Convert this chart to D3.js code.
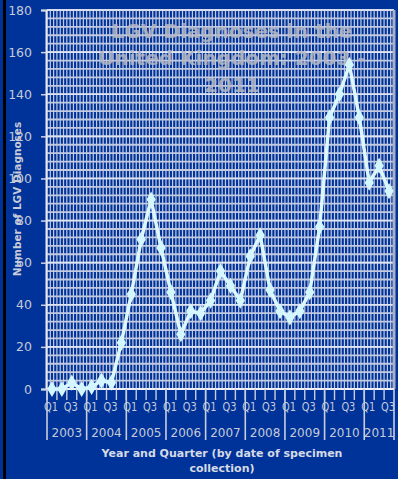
<!DOCTYPE html>
<html>
<head>
<meta charset="utf-8">
<script src="https://cdn.jsdelivr.net/npm/d3@7/dist/d3.min.js"></script>
<style>
  html, body { margin: 0; padding: 0; background: #003399; }
  svg { display: block; }
</style>
</head>
<body>
<script>
// ---- data ----
const years = ["2003","2004","2005","2006","2007","2008","2009","2010","2011"];
const quarters = ["Q1","Q2","Q3","Q4"];
const quartersPerYear = [4,4,4,4,4,4,4,4,3];
const values = [
  0, 0, 3, 0,        // 2003
  1, 4, 3, 22,       // 2004
  45, 71, 90, 67,    // 2005
  46, 26, 37, 36,    // 2006
  42, 56, 49, 42,    // 2007
  63, 73, 47, 37,    // 2008
  34, 37, 46, 77,    // 2009
  129, 140, 154, 129,// 2010
  98, 106, 94        // 2011
];
const yTicks = [0,20,40,60,80,100,120,140,160,180];
const titleLines = ["LGV Diagnoses in the", "United Kingdom: 2003 -", "2011"];
const yTitle = "Number of LGV Diagnoses";
const xTitleLines = ["Year and Quarter (by date of specimen", "collection)"];

(function () {
const categories = [];
years.forEach((yr, i) => {
  for (let q = 0; q < quartersPerYear[i]; q++) categories.push({year: yr, q: quarters[q], key: yr + "-" + quarters[q]});
});
const data = categories.map((c, i) => ({...c, value: values[i]}));

const W = 398, H = 479;
const pL = 47, pR = 394, pT = 10, pB = 389;
const BG = "#003399";
const GRID = "#c3cbe2";
const TXT = "#c6cad8";

const svg = d3.select("body").append("svg").attr("width", W).attr("height", H);
svg.append("rect").attr("width", W).attr("height", H).attr("fill", BG);
svg.append("rect").attr("x", 3).attr("y", 0).attr("width", 3).attr("height", H).attr("fill", "#000");

const x = d3.scaleBand().domain(categories.map(c => c.key)).range([pL, pR]).padding(0);
const y = d3.scaleLinear().domain([0, 180]).range([pB, pT]);

const g = svg.append("g");

// minor horizontal grid (every 4)
const minorY = d3.range(0, 181, 4);
g.selectAll(".hmin").data(minorY).join("line")
  .attr("x1", pL).attr("x2", pR)
  .attr("y1", d => y(d)).attr("y2", d => y(d))
  .attr("stroke", GRID).attr("stroke-width", 1.8);

// vertical grid (thirds of a quarter)
const bw = x.bandwidth();
const vLines = [];
categories.forEach(c => { for (let k = 0; k < 3; k++) vLines.push(x(c.key) + k * bw / 3); });
vLines.push(pR);
g.selectAll(".vmin").data(vLines).join("line")
  .attr("x1", d => d).attr("x2", d => d)
  .attr("y1", pT).attr("y2", pB)
  .attr("stroke", GRID).attr("stroke-width", 1.2);

// major horizontal grid
g.selectAll(".hmaj").data(yTicks).join("line")
  .attr("x1", pL).attr("x2", pR)
  .attr("y1", d => y(d)).attr("y2", d => y(d))
  .attr("stroke", "#dfe4f2").attr("stroke-width", 1.6);

// plot right border
g.append("line").attr("x1", pR).attr("x2", pR).attr("y1", pT).attr("y2", pB)
  .attr("stroke", "#a8b0c8").attr("stroke-width", 3);

// title (semi-transparent over grid)
const title = svg.append("text")
  .attr("font-family", "DejaVu Sans, Verdana, sans-serif")
  .attr("font-weight", "bold").attr("font-size", 20)
  .attr("fill", "#b4b8c4").attr("fill-opacity", 0.85)
  .attr("text-anchor", "middle");
titleLines.forEach((t, i) => {
  title.append("tspan").attr("x", 232).attr("y", 38 + i * 27).text(t);
});

// y axis
const yAxis = d3.axisLeft(y).tickValues(yTicks).tickSize(5).tickPadding(9).tickFormat(d3.format("d"));
const ya = svg.append("g").attr("transform", `translate(${pL - 1},0)`).call(yAxis);
ya.select(".domain").attr("stroke", "#e6e9f2").attr("stroke-width", 2);
ya.selectAll(".tick line").attr("stroke", "#d0d4e0").attr("stroke-width", 1.5);
ya.selectAll(".tick text")
  .attr("font-family", "DejaVu Sans, Verdana, sans-serif")
  .attr("font-size", 12.5).attr("fill", TXT);

// x axis line
svg.append("line").attr("x1", pL).attr("x2", pR).attr("y1", pB).attr("y2", pB)
  .attr("stroke", "#eef0f6").attr("stroke-width", 2);

// quarter ticks below axis
const qTicks = categories.map(c => x(c.key));
svg.selectAll(".qt").data(qTicks).join("line")
  .attr("x1", d => d).attr("x2", d => d).attr("y1", pB).attr("y2", pB + 11)
  .attr("stroke", "#c8cee0").attr("stroke-width", 1.4);

// year separators
let acc = 0;
const yearBounds = [];
years.forEach((yr, i) => {
  const start = x(categories[acc].key);
  const endIdx = acc + quartersPerYear[i] - 1;
  const end = x(categories[endIdx].key) + bw;
  yearBounds.push({year: yr, start, end});
  acc += quartersPerYear[i];
});
const sepX = [yearBounds[0].start, ...yearBounds.map(b => b.end)];
svg.selectAll(".ysep").data(sepX).join("line")
  .attr("x1", d => d).attr("x2", d => d).attr("y1", pB).attr("y2", 440)
  .attr("stroke", "#c8cee0").attr("stroke-width", 1.6);

// quarter labels (Q1, Q3 only)
svg.selectAll(".ql").data(data.filter(d => d.q === "Q1" || d.q === "Q3")).join("text")
  .attr("transform", d => `translate(${x(d.key) + bw / 2 - 1},411) scale(0.82,1)`)
  .attr("text-anchor", "middle")
  .attr("font-family", "DejaVu Sans, Verdana, sans-serif")
  .attr("font-size", 12).attr("fill", TXT)
  .text(d => d.q);

// year labels
svg.selectAll(".yl").data(yearBounds).join("text")
  .attr("x", d => (d.start + d.end) / 2).attr("y", 437)
  .attr("text-anchor", "middle")
  .attr("font-family", "DejaVu Sans, Verdana, sans-serif")
  .attr("font-size", 12).attr("fill", TXT)
  .text(d => d.year);

// x title
const xt = svg.append("text")
  .attr("font-family", "DejaVu Sans, Verdana, sans-serif")
  .attr("font-weight", "bold").attr("font-size", 11)
  .attr("fill", "#d6dae6").attr("text-anchor", "middle");
xTitleLines.forEach((t, i) => xt.append("tspan").attr("x", 222).attr("y", 457 + i * 15).text(t));

// y title
svg.append("text")
  .attr("transform", "translate(21,199) rotate(-90)")
  .attr("text-anchor", "middle")
  .attr("font-family", "DejaVu Sans, Verdana, sans-serif")
  .attr("font-weight", "bold").attr("font-size", 10.5)
  .attr("fill", "#c8ccd8")
  .text(yTitle);

// data line
const line = d3.line().x(d => x(d.key) + bw / 2).y(d => y(d.value));
svg.append("path").datum(data)
  .attr("d", line).attr("fill", "none")
  .attr("stroke", "#dcf7ff").attr("stroke-width", 3.5).attr("stroke-linejoin", "round");

svg.selectAll(".pt").data(data).join("path")
  .attr("transform", d => `translate(${x(d.key) + bw / 2},${y(d.value)})`)
  .attr("d", d3.symbol().type(d3.symbolDiamond).size(75))
  .attr("fill", "#d4f6ff");
})();
</script>
</body>
</html>
